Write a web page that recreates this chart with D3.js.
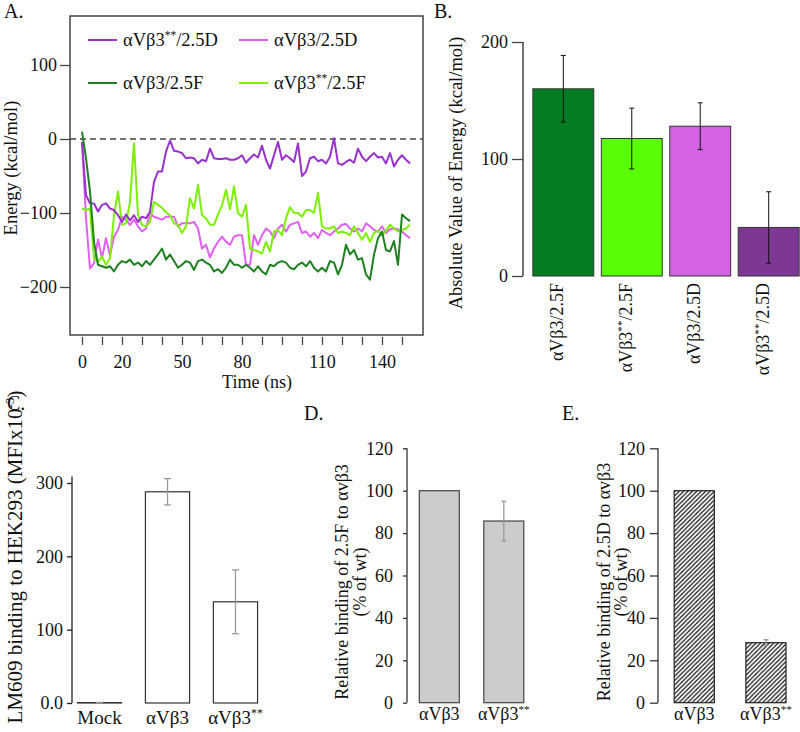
<!DOCTYPE html>
<html><head><meta charset="utf-8">
<script src="https://cdn.jsdelivr.net/npm/d3@7"></script>
<style>
body{margin:0;background:#fff}
svg{display:block}
svg text, svg tspan{font-family:"Liberation Serif","Times New Roman",serif !important;fill:#111}
</style>
</head><body><svg id="c" width="800" height="732" font-family="Liberation Serif"></svg>
<script>
// ---------- Panel A data ----------
const timeNs = [0,2,4,6,8,10,12,14,16,18,20,22,24,26,28,30,32,34,36,38,40,42,44,46,48,50,52,54,56,58,60,62,64,66,68,70,72,74,76,78,80,82,84,86,88,90,92,94,96,98,100,102,104,106,108,110,112,114,116,118,120,122,124,126,128,130,132,134,136,138,140,142,144,146,148,150,152,154,156,158,160,162,164];
const seriesNames = ["αVβ3**/2.5D","αVβ3/2.5D","αVβ3/2.5F","αVβ3**/2.5F"];
const seriesColors = ["#9932cc","#e060f0","#1e8020","#7cf000"];
const energyPurple = [-4,-76,-87,-87,-98,-89,-87,-94,-96,-103,-112,-102,-110,-103,-112,-105,-107,-98,-58,-44,-44,-17,-2,-16,-17,-19,-26,-25,-26,
 -33,-28,-30,-13,-26,-27,-27,-26,-28,-28,-26,-22,-32,-26,-21,-25,-9,-28,-40,-22,-4,-28,-22,-26,-31,-6,-50,-44,
 -26,-24,-30,-28,-33,-24,1,-33,-35,-31,-28,-32,-13,-24,-30,-24,-19,-25,-24,-33,-19,-37,-28,-22,-28,-33];
const energyMagenta = [-4,-107,-175,-168,-136,-161,-134,-157,-132,-123,-105,-109,-116,-109,-118,-125,-121,-100,-105,-107,-109,-105,-105,-105,-118,-114,-114,-114,-112,
 -121,-148,-143,-160,-148,-139,-132,-139,-143,-132,-130,-130,-170,-170,-130,-143,-130,-121,-125,-134,-121,-116,-125,-116,-114,-112,-127,-125,
 -132,-127,-134,-123,-127,-130,-125,-121,-116,-115,-121,-125,-121,-125,-114,-118,-123,-125,-118,-127,-122,-121,-122,-125,-130,-134];
const energyDarkGreen = [10,-26,-71,-139,-170,-172,-174,-172,-179,-170,-165,-167,-163,-170,-167,-172,-165,-170,-163,-156,-148,-163,-156,-165,-174,-170,-165,-167,-177,
 -165,-163,-167,-170,-179,-176,-181,-174,-163,-170,-170,-174,-170,-174,-179,-172,-179,-183,-170,-172,-167,-165,-167,-174,-176,-170,-167,-172,
 -165,-174,-179,-174,-179,-165,-167,-183,-170,-143,-156,-150,-163,-161,-183,-190,-156,-134,-125,-150,-152,-138,-170,-102,-107,-111];
const energyLightGreen = [-94,-96,-94,-161,-166,-159,-170,-161,-103,-71,-116,-114,-85,-6,-103,-116,-118,-112,-85,-89,-93,-99,-103,-114,-116,-127,-118,-80,-94,
 -62,-103,-107,-116,-116,-102,-90,-69,-95,-64,-100,-105,-89,-148,-150,-152,-155,-139,-152,-125,-123,-130,-107,-92,-100,-100,-105,-96,
 -96,-100,-73,-118,-121,-121,-118,-127,-125,-127,-130,-118,-127,-136,-127,-139,-127,-124,-130,-124,-116,-121,-125,-123,-121,-116];
const timeTickValues = [0,10,20,30,40,50,60,70,80,90,100,110,120,130,140,150,160];
const timeLabelValues = [0,20,50,80,120,150];
const timeLabelText = ["0","20","50","80","110","140"];
const energyTicks = [100,0,-100,-200];

// ---------- Panel B data ----------
const bCategories = ["αVβ3/2.5F","αVβ3**/2.5F","αVβ3/2.5D","αVβ3**/2.5D"];
const bValues = [160,117.5,128,41.5];
const bErrors = [28.5,26,20,30.5];
const bColors = ["#027d22","#5afd06","#d463e3","#7d3894"];
const bTicks = [0,100,200];

// ---------- Panel C data ----------
const cCategories = ["Mock","αVβ3","αVβ3**"];
const cValues = [0.5,288,138];
const cErrors = [0.3,18,43.5];
const cTicks = [0,100,200,300];
const cTickText = ["0.0","100","200","300"];

// ---------- Panel D / E data ----------
const deCategories = ["αVβ3","αVβ3**"];
const dValues = [100,85.7];
const dErrors = [0,9.3];
const eValues = [100,28.3];
const eErrors = [0,1.4];
const pctTicks = [0,20,40,60,80,100,120];

// ---------- helpers ----------
const SERIF = '"Liberation Serif","Times New Roman",serif';
const svg = d3.select("#c");
const FS = 18;

function richText(sel, str, fs) {
  const parts = str.replace(/\*\*/g, "^{**}").split(/\^\{([^}]*)\}/);
  const sh = fs * 0.38;
  let up = false;
  parts.forEach((p, i) => {
    if (i % 2 === 1) {
      sel.append("tspan").attr("dy", -sh).attr("font-size", fs * 0.62).text(p);
      up = true;
    } else if (p.length) {
      sel.append("tspan").attr("dy", up ? sh : 0).text(p);
      up = false;
    }
  });
}

function styleAxis(g, color) {
  g.attr("font-family", null).attr("font-size", null);
  g.select(".domain").remove();
  g.selectAll(".tick line").attr("stroke", color).attr("stroke-width", 1.3);
  g.selectAll(".tick text").style("font-size", FS + "px").style("font-family", SERIF).attr("fill", "#111");
}

function panelLetter(txt, x, y) {
  svg.append("text").attr("x", x).attr("y", y).attr("font-size", 20).text(txt);
}

// hatch pattern
const defs = svg.append("defs");
const pat = defs.append("pattern").attr("id", "hatch").attr("patternUnits", "userSpaceOnUse")
  .attr("width", 4.4).attr("height", 4.4);
pat.append("rect").attr("width", 4.4).attr("height", 4.4).attr("fill", "#fff");
pat.append("path").attr("d", "M-1.1,1.1 L1.1,-1.1 M0,4.4 L4.4,0 M3.3,5.5 L5.5,3.3")
  .attr("stroke", "#111").attr("stroke-width", 1.2);
defs.append("clipPath").attr("id", "clipA").append("rect")
  .attr("x", 70).attr("y", 16).attr("width", 353).attr("height", 319);

// ================= Panel A =================
panelLetter("A.", 4, 18);
const aX = d3.scaleLinear().domain([0, 160]).range([82, 402]);
const aY = d3.scaleLinear().domain([-200, 100]).range([287, 65]);

svg.append("rect").attr("x", 70).attr("y", 16).attr("width", 353).attr("height", 319)
  .attr("fill", "none").attr("stroke", "#444").attr("stroke-width", 1.5);

svg.append("line").attr("x1", 70).attr("x2", 423).attr("y1", aY(0)).attr("y2", aY(0))
  .attr("stroke", "#444").attr("stroke-width", 1.3).attr("stroke-dasharray", "6,4");

const seriesData = [energyPurple, energyMagenta, energyDarkGreen, energyLightGreen];
const drawOrder = [1, 3, 0, 2];
const lineGen = d3.line().x((d, i) => aX(timeNs[i])).y(d => aY(d));
const gl = svg.append("g").attr("clip-path", "url(#clipA)");
drawOrder.forEach(si => {
  gl.append("path").datum(seriesData[si]).attr("d", lineGen)
    .attr("fill", "none").attr("stroke", seriesColors[si]).attr("stroke-width", 2)
    .attr("stroke-linejoin", "round");
});

const gAy = svg.append("g").attr("transform", "translate(70,0)")
  .call(d3.axisLeft(aY).tickValues(energyTicks).tickSize(10).tickPadding(3).tickFormat(d3.format("d")));
styleAxis(gAy, "#444");

const labelMap = new Map(timeLabelValues.map((v, i) => [v, timeLabelText[i]]));
const gAx = svg.append("g").attr("transform", "translate(0,337)")
  .call(d3.axisBottom(aX).tickValues(timeTickValues).tickSize(8).tickPadding(10)
    .tickFormat(v => labelMap.has(v) ? labelMap.get(v) : ""));
styleAxis(gAx, "#444");

svg.append("text").attr("x", 257).attr("y", 388).attr("text-anchor", "middle")
  .attr("font-size", FS).text("Time (ns)");
svg.append("text").attr("transform", "translate(17,168) rotate(-90)").attr("text-anchor", "middle")
  .attr("font-size", 18.5).text("Energy (kcal/mol)");

// legend
const legPos = [[88, 40], [239, 40], [88, 83], [239, 83]];
seriesNames.forEach((name, i) => {
  const [lx, ly] = legPos[i];
  svg.append("line").attr("x1", lx).attr("x2", lx + 29).attr("y1", ly).attr("y2", ly)
    .attr("stroke", seriesColors[i]).attr("stroke-width", 2);
  const t = svg.append("text").attr("x", lx + 35).attr("y", ly + 6).attr("font-size", 18.5);
  richText(t, name, 18.5);
});

// ================= Panel B =================
panelLetter("B.", 434, 18);
const bX = d3.scaleBand().domain(bCategories).range([526, 806]).paddingInner(0.11).paddingOuter(0.1);
const bY = d3.scaleLinear().domain([0, 200]).range([276, 42]);
svg.append("line").attr("x1", 523).attr("x2", 523).attr("y1", bY(0)).attr("y2", bY(200))
  .attr("stroke", "#444").attr("stroke-width", 1.5);
const gBy = svg.append("g").attr("transform", "translate(523,0)")
  .call(d3.axisLeft(bY).tickValues(bTicks).tickSize(11).tickPadding(4));
styleAxis(gBy, "#444");
bCategories.forEach((c, i) => {
  svg.append("rect").attr("x", bX(c)).attr("y", bY(bValues[i])).attr("width", bX.bandwidth())
    .attr("height", bY(0) - bY(bValues[i])).attr("fill", bColors[i]).attr("stroke", "#333").attr("stroke-width", 1);
  const cx = bX(c) + bX.bandwidth() / 2;
  const eg = svg.append("g").attr("stroke", "#111").attr("stroke-width", 1);
  eg.append("line").attr("x1", cx).attr("x2", cx).attr("y1", bY(bValues[i] + bErrors[i])).attr("y2", bY(bValues[i] - bErrors[i]));
  [bValues[i] + bErrors[i], bValues[i] - bErrors[i]].forEach(v =>
    eg.append("line").attr("x1", cx - 2.5).attr("x2", cx + 2.5).attr("y1", bY(v)).attr("y2", bY(v)));
  const t = svg.append("text").attr("transform", `translate(${cx},283) rotate(-90)`)
    .attr("text-anchor", "end").attr("dy", "0.33em").attr("font-size", FS);
  richText(t, c, FS);
});
svg.append("text").attr("transform", "translate(462,173) rotate(-90)").attr("text-anchor", "middle")
  .attr("font-size", 18.5).text("Absolute Value of Energy (kcal/mol)");

// ================= Panel C =================
panelLetter("C.", 7, 410);
const cX = d3.scaleBand().domain(cCategories).range([72, 263]).paddingInner(0.35).paddingOuter(0.08);
const cY = d3.scaleLinear().domain([0, 300]).range([703, 483]);
svg.append("line").attr("x1", 72).attr("x2", 72).attr("y1", cY(0)).attr("y2", cY(309))
  .attr("stroke", "#222").attr("stroke-width", 1.3);
const gCy = svg.append("g").attr("transform", "translate(72,0)")
  .call(d3.axisLeft(cY).tickValues(cTicks).tickSize(5).tickPadding(4).tickFormat((d, i) => cTickText[i]));
styleAxis(gCy, "#222");
cCategories.forEach((c, i) => {
  svg.append("rect").attr("x", cX(c)).attr("y", cY(cValues[i])).attr("width", cX.bandwidth())
    .attr("height", cY(0) - cY(cValues[i])).attr("fill", "#fff").attr("stroke", "#333").attr("stroke-width", 1.2);
  const cx = cX(c) + cX.bandwidth() / 2;
  const eg = svg.append("g").attr("stroke", "#999").attr("stroke-width", 1.3);
  eg.append("line").attr("x1", cx).attr("x2", cx).attr("y1", cY(cValues[i] + cErrors[i])).attr("y2", cY(cValues[i] - cErrors[i]));
  [cValues[i] + cErrors[i], cValues[i] - cErrors[i]].forEach(v =>
    eg.append("line").attr("x1", cx - 3.5).attr("x2", cx + 3.5).attr("y1", cY(v)).attr("y2", cY(v)));
  const t = svg.append("text").attr("x", cx).attr("y", 724).attr("text-anchor", "middle").attr("font-size", 19);
  richText(t, c, 19);
});
const cTitle = svg.append("text").attr("transform", "translate(22,557) rotate(-90)").attr("text-anchor", "middle")
  .attr("font-size", 21);
richText(cTitle, "LM609 binding to HEK293 (MFIx10^{-3})", 21);

// ================= Panel D & E =================
function pctPanel(opts) {
  const { letter, lx, axisX, range, pIn, pOut, values, errors, fill, stroke, tick, pad, title, t1x, t2x } = opts;
  panelLetter(letter, lx, 420);
  const x = d3.scaleBand().domain(deCategories).range(range).paddingInner(pIn).paddingOuter(pOut);
  const y = d3.scaleLinear().domain([0, 120]).range([702.7, 448.3]);
  svg.append("line").attr("x1", axisX).attr("x2", axisX).attr("y1", y(0)).attr("y2", y(120))
    .attr("stroke", "#333").attr("stroke-width", 1.3);
  const g = svg.append("g").attr("transform", `translate(${axisX},0)`)
    .call(d3.axisLeft(y).tickValues(pctTicks).tickSize(tick).tickPadding(pad));
  styleAxis(g, "#333");
  deCategories.forEach((c, i) => {
    svg.append("rect").attr("x", x(c)).attr("y", y(values[i])).attr("width", x.bandwidth())
      .attr("height", y(0) - y(values[i])).attr("fill", fill).attr("stroke", stroke).attr("stroke-width", 1.2);
    const cx = x(c) + x.bandwidth() / 2;
    if (errors[i] > 0) {
      const eg = svg.append("g").attr("stroke", "#999").attr("stroke-width", 1.3);
      eg.append("line").attr("x1", cx).attr("x2", cx).attr("y1", y(values[i] + errors[i])).attr("y2", y(values[i] - errors[i]));
      [values[i] + errors[i], values[i] - errors[i]].forEach(v =>
        eg.append("line").attr("x1", cx - 2.5).attr("x2", cx + 2.5).attr("y1", y(v)).attr("y2", y(v)));
    }
    const t = svg.append("text").attr("x", cx).attr("y", 720).attr("text-anchor", "middle").attr("font-size", FS);
    richText(t, c, FS);
  });
  svg.append("text").attr("transform", `translate(${t1x},582) rotate(-90)`).attr("text-anchor", "middle")
    .attr("font-size", FS).text(title);
  svg.append("text").attr("transform", `translate(${t2x},582) rotate(-90)`).attr("text-anchor", "middle")
    .attr("font-size", FS).text("(% of wt)");
}
pctPanel({ letter: "D.", lx: 304, axisX: 407, range: [406.4, 536.7], pIn: 0.38, pOut: 0.2,
  values: dValues, errors: dErrors, fill: "#cccccc", stroke: "#444", tick: 4, pad: 10,
  title: "Relative binding of 2.5F to αvβ3", t1x: 348, t2x: 366 });
pctPanel({ letter: "E.", lx: 562, axisX: 658, range: [657.7, 802.5], pIn: 0.44, pOut: 0.23,
  values: eValues, errors: eErrors, fill: "url(#hatch)", stroke: "#222", tick: 8, pad: 5,
  title: "Relative binding of 2.5D to αvβ3", t1x: 610, t2x: 627 });
</script>
</body></html>
